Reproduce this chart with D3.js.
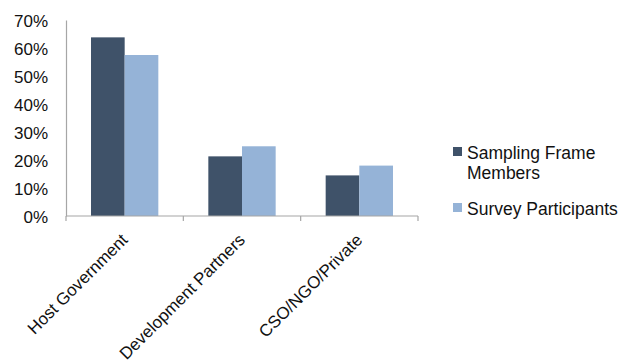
<!DOCTYPE html>
<html>
<head>
<meta charset="utf-8">
<script src="https://cdn.jsdelivr.net/npm/d3@7"></script>
<style>
  html, body { margin: 0; padding: 0; background: #fff; }
  text { font-family: "Liberation Sans", Arial, Helvetica, sans-serif; fill: #111; }
</style>
</head>
<body>
<svg id="chart" width="624" height="363"></svg>
<script>
// Share of respondents by stakeholder group
const categories = ["Host Government", "Development Partners", "CSO/NGO/Private"];
const seriesNames = ["Sampling Frame Members", "Survey Participants"];
const samplingFrame = [0.638, 0.213, 0.145];
const surveyParticipants = [0.575, 0.249, 0.180];
const yTicks = [0, 0.1, 0.2, 0.3, 0.4, 0.5, 0.6, 0.7];
const colors = ["#3f5269", "#95b3d7"];

const svg = d3.select("#chart");
const plot = { left: 66, right: 418, top: 20, bottom: 216 };
const fontSize = 17;

const x0 = d3.scaleBand().domain(categories).range([plot.left, plot.right]).padding(0);
const x1 = d3.scaleBand().domain(seriesNames).range([25, x0.bandwidth() - 25]).padding(0);
const y = d3.scaleLinear().domain([0, 0.7]).range([plot.bottom, plot.top]);

const rows = categories.map((c, i) => ({
  category: c,
  values: [
    { series: seriesNames[0], value: samplingFrame[i] },
    { series: seriesNames[1], value: surveyParticipants[i] }
  ]
}));

// bars
const groups = svg.append("g").selectAll("g").data(rows).join("g")
  .attr("transform", d => `translate(${x0(d.category)},0)`);
groups.selectAll("rect").data(d => d.values).join("rect")
  .attr("x", d => x1(d.series))
  .attr("width", x1.bandwidth())
  .attr("y", d => y(d.value))
  .attr("height", d => y(0) - y(d.value))
  .attr("fill", (d, i) => colors[i]);

// y axis: line plus labels only
const yAxis = svg.append("g").attr("transform", `translate(${plot.left},0)`)
  .call(d3.axisLeft(y).tickValues(yTicks).tickFormat(d3.format(".0%")).tickSize(0).tickPadding(18));
yAxis.select(".domain").attr("stroke", "#a6a6a6").attr("stroke-width", 1.2);
yAxis.selectAll("text").attr("font-size", fontSize).attr("dy", "0.38em")
  .style("font-family", "'Liberation Sans', Arial, sans-serif").attr("fill", "#111");

// x axis with ticks between categories
const xAxisG = svg.append("g").attr("transform", `translate(0,${plot.bottom})`);
xAxisG.append("line").attr("x1", plot.left).attr("x2", plot.right).attr("y1", 0).attr("y2", 0)
  .attr("stroke", "#a6a6a6").attr("stroke-width", 1.2);
const boundaries = categories.map(c => x0(c)).concat([x0(categories[categories.length - 1]) + x0.bandwidth()]);
xAxisG.selectAll("line.tick").data(boundaries).join("line")
  .attr("class", "tick")
  .attr("x1", d => d).attr("x2", d => d).attr("y1", 0).attr("y2", 5)
  .attr("stroke", "#a6a6a6").attr("stroke-width", 1.2);

// rotated category labels
svg.append("g").selectAll("text").data(categories).join("text")
  .attr("transform", d => `translate(${x0(d) + x0.bandwidth() / 2 - 2},${plot.bottom + 19}) rotate(-45)`)
  .attr("text-anchor", "end")
  .attr("font-size", fontSize)
  .attr("dy", "0.5em")
  .text(d => d);

// legend
const legend = svg.append("g");
const legendItems = [
  { lines: ["Sampling Frame", "Members"], color: colors[0], y: 147 },
  { lines: ["Survey Participants"], color: colors[1], y: 203 }
];
legendItems.forEach(item => {
  legend.append("rect").attr("x", 453).attr("y", item.y).attr("width", 9).attr("height", 9)
    .attr("fill", item.color);
  const t = legend.append("text").attr("x", 467).attr("y", item.y + 12).attr("font-size", fontSize + 0.5);
  item.lines.forEach((ln, i) => {
    t.append("tspan").attr("x", 467).attr("dy", i === 0 ? 0 : 20).text(ln);
  });
});
</script>
</body>
</html>
